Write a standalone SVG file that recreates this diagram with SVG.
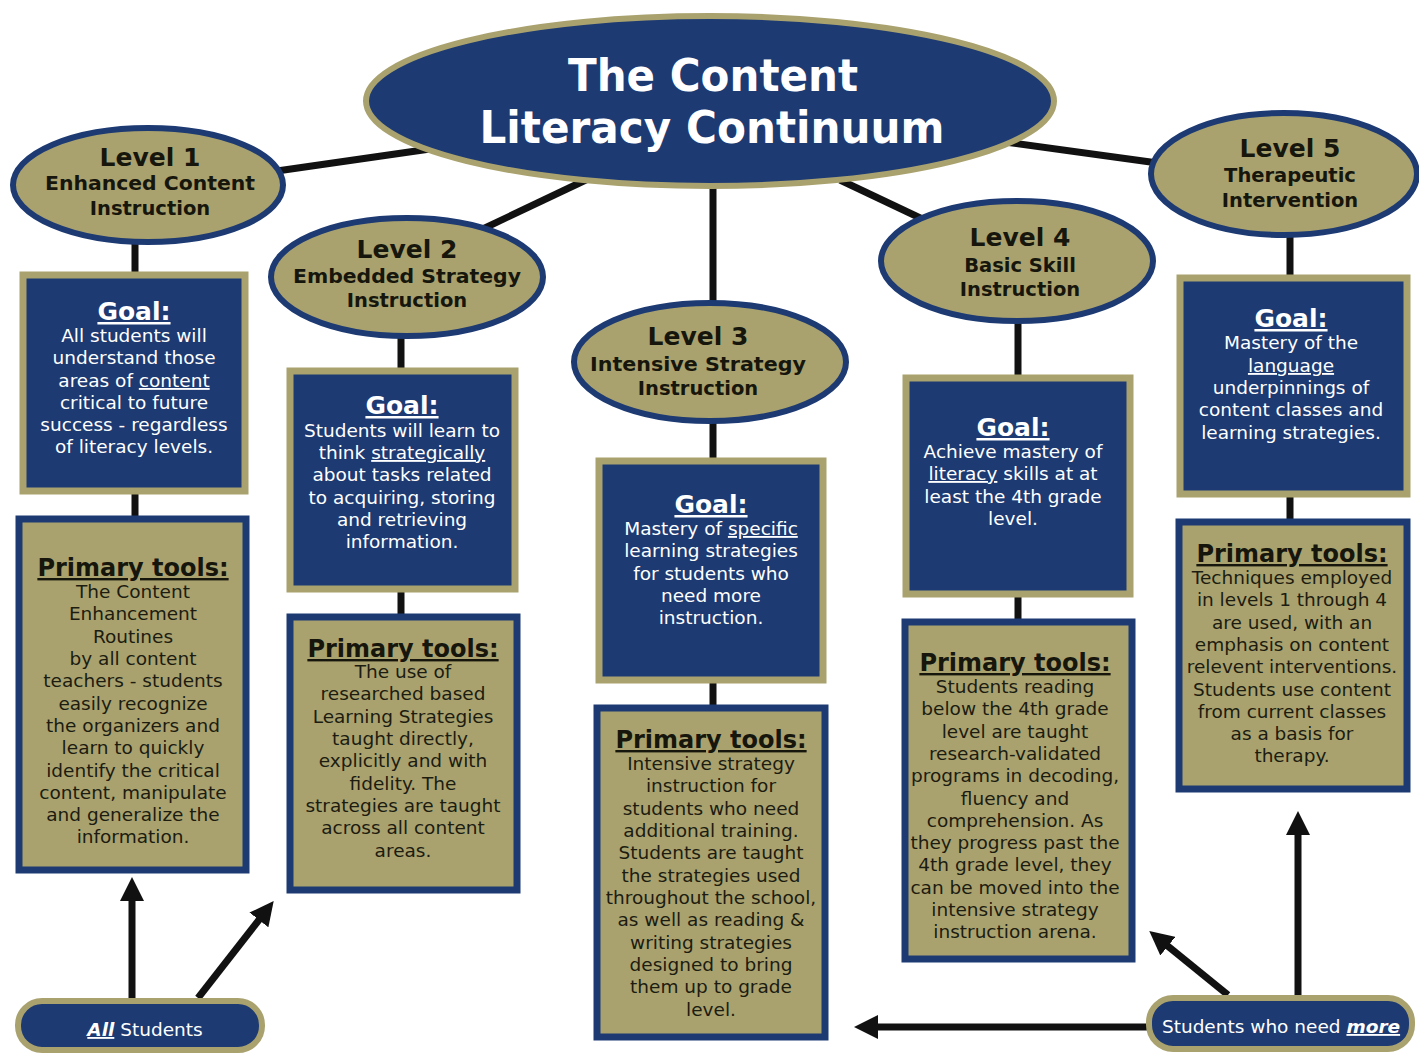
<svg xmlns="http://www.w3.org/2000/svg" width="1419" height="1055" viewBox="0 0 1419 1055">
<style>
.bg{fill:#ffffff}
.title-ell{fill:#1d3a72;stroke:#a9a26f;stroke-width:6}
.lvl{fill:#a9a26f;stroke:#1d3a72;stroke-width:6}
.goal{fill:#1d3a72;stroke:#a9a26f;stroke-width:7}
.tools{fill:#a9a26f;stroke:#1d3a72;stroke-width:7}
.pill{fill:#1d3a72;stroke:#a9a26f;stroke-width:6}
.line{stroke:#111111;stroke-width:7;fill:none}
.arrow{stroke:#111111;stroke-width:7;fill:none;marker-end:url(#ah)}
text{font-family:"DejaVu Sans","Liberation Sans",sans-serif;text-anchor:middle}
.ttl{font-size:44px;font-weight:bold;fill:#ffffff}
.lv{font-size:25px;font-weight:bold;fill:#16160c}
.ls{font-size:19.5px;font-weight:bold;fill:#16160c}
.gh{font-size:25px;font-weight:bold;fill:#ffffff;text-decoration:underline}
.gt{font-size:18.5px;fill:#ffffff}
.th{font-size:24px;font-weight:bold;fill:#16160c;text-decoration:underline}
.tt{font-size:18.5px;fill:#1c1c10}
.pt{font-size:18.5px;fill:#ffffff}
.u{text-decoration:underline}
.bi{font-weight:bold;font-style:italic;text-decoration:underline}
</style>
<defs>
<marker id="ah" markerUnits="userSpaceOnUse" markerWidth="24" markerHeight="24" viewBox="0 0 24 24" refX="5" refY="12" orient="auto">
<path d="M0,0 L24,12 L0,24 z" fill="#111111"/>
</marker>
</defs>
<rect class="bg" x="0" y="0" width="1419" height="1055"/>

<g id="connectors">
<line class="line" x1="270" y1="172" x2="430" y2="149"/>
<line class="line" x1="470" y1="235" x2="590" y2="178"/>
<line class="line" x1="713" y1="180" x2="713" y2="708"/>
<line class="line" x1="840" y1="180" x2="935" y2="225"/>
<line class="line" x1="1005" y1="142" x2="1165" y2="164"/>
<line class="line" x1="135" y1="238" x2="135" y2="520"/>
<line class="line" x1="401" y1="332" x2="401" y2="617"/>
<line class="line" x1="1018" y1="318" x2="1018" y2="622"/>
<line class="line" x1="1290" y1="232" x2="1290" y2="522"/>
<path class="arrow" d="M132,1000 L132,896"/>
<path class="arrow" d="M198,998 L262,916"/>
<path class="arrow" d="M1148,1027 L873,1027"/>
<path class="arrow" d="M1228,995 L1164,943"/>
<path class="arrow" d="M1298,997 L1298,830"/>
</g>

<g id="title">
<ellipse class="title-ell" cx="710" cy="101" rx="344" ry="85"/>
<text class="ttl" x="713" y="91" textLength="290" lengthAdjust="spacingAndGlyphs">The Content</text>
<text class="ttl" x="712" y="143" textLength="465" lengthAdjust="spacingAndGlyphs">Literacy Continuum</text>
</g>

<g id="level1">
<ellipse class="lvl" cx="148" cy="185" rx="135" ry="57"/>
<text class="lv" x="150" y="166">Level 1</text>
<text class="ls" x="150" y="190" textLength="210" lengthAdjust="spacingAndGlyphs">Enhanced Content</text>
<text class="ls" x="150" y="215">Instruction</text>
</g>
<g id="level2">
<ellipse class="lvl" cx="407" cy="277" rx="136" ry="59"/>
<text class="lv" x="407" y="258">Level 2</text>
<text class="ls" x="407" y="283" textLength="228" lengthAdjust="spacingAndGlyphs">Embedded Strategy</text>
<text class="ls" x="407" y="307">Instruction</text>
</g>
<g id="level3">
<ellipse class="lvl" cx="710" cy="362" rx="136" ry="59"/>
<text class="lv" x="698" y="345">Level 3</text>
<text class="ls" x="698" y="371" textLength="216" lengthAdjust="spacingAndGlyphs">Intensive Strategy</text>
<text class="ls" x="698" y="395">Instruction</text>
</g>
<g id="level4">
<ellipse class="lvl" cx="1017" cy="261" rx="136" ry="60"/>
<text class="lv" x="1020" y="246">Level 4</text>
<text class="ls" x="1020" y="272">Basic Skill</text>
<text class="ls" x="1020" y="296">Instruction</text>
</g>
<g id="level5">
<ellipse class="lvl" cx="1284" cy="174" rx="133" ry="61"/>
<text class="lv" x="1290" y="157">Level 5</text>
<text class="ls" x="1290" y="182">Therapeutic</text>
<text class="ls" x="1290" y="207">Intervention</text>
</g>

<g id="goal1">
<rect class="goal" x="23" y="275" width="222" height="216"/>
<text class="gh" x="134" y="320">Goal:</text>
<text class="gt" x="134" y="342">All students will</text>
<text class="gt" x="134" y="364">understand those</text>
<text class="gt" x="134" y="387">areas of <tspan class="u">content</tspan></text>
<text class="gt" x="134" y="409">critical to future</text>
<text class="gt" x="134" y="431">success - regardless</text>
<text class="gt" x="134" y="453">of literacy levels.</text>
</g>
<g id="tools1">
<rect class="tools" x="19" y="519" width="227" height="351"/>
<text class="th" x="133" y="576">Primary tools:</text>
<text class="tt" x="133" y="598">The Content</text>
<text class="tt" x="133" y="620">Enhancement</text>
<text class="tt" x="133" y="643">Routines</text>
<text class="tt" x="133" y="665">by all content</text>
<text class="tt" x="133" y="687">teachers - students</text>
<text class="tt" x="133" y="710">easily recognize</text>
<text class="tt" x="133" y="732">the organizers and</text>
<text class="tt" x="133" y="754">learn to quickly</text>
<text class="tt" x="133" y="777">identify the critical</text>
<text class="tt" x="133" y="799">content, manipulate</text>
<text class="tt" x="133" y="821">and generalize the</text>
<text class="tt" x="133" y="843">information.</text>
</g>

<g id="goal2">
<rect class="goal" x="290" y="371" width="225" height="218"/>
<text class="gh" x="402" y="414">Goal:</text>
<text class="gt" x="402" y="437">Students will learn to</text>
<text class="gt" x="402" y="459">think <tspan class="u">strategically</tspan></text>
<text class="gt" x="402" y="481">about tasks related</text>
<text class="gt" x="402" y="504">to acquiring, storing</text>
<text class="gt" x="402" y="526">and retrieving</text>
<text class="gt" x="402" y="548">information.</text>
</g>
<g id="tools2">
<rect class="tools" x="290" y="617" width="227" height="273"/>
<text class="th" x="403" y="657">Primary tools:</text>
<text class="tt" x="403" y="678">The use of</text>
<text class="tt" x="403" y="700">researched based</text>
<text class="tt" x="403" y="723">Learning Strategies</text>
<text class="tt" x="403" y="745">taught directly,</text>
<text class="tt" x="403" y="767">explicitly and with</text>
<text class="tt" x="403" y="790">fidelity. The</text>
<text class="tt" x="403" y="812">strategies are taught</text>
<text class="tt" x="403" y="834">across all content</text>
<text class="tt" x="403" y="857">areas.</text>
</g>

<g id="goal3">
<rect class="goal" x="599" y="461" width="224" height="219"/>
<text class="gh" x="711" y="513">Goal:</text>
<text class="gt" x="711" y="535">Mastery of <tspan class="u">specific</tspan></text>
<text class="gt" x="711" y="557">learning strategies</text>
<text class="gt" x="711" y="580">for students who</text>
<text class="gt" x="711" y="602">need more</text>
<text class="gt" x="711" y="624">instruction.</text>
</g>
<g id="tools3">
<rect class="tools" x="597" y="708" width="228" height="329"/>
<text class="th" x="711" y="748">Primary tools:</text>
<text class="tt" x="711" y="770">Intensive strategy</text>
<text class="tt" x="711" y="792">instruction for</text>
<text class="tt" x="711" y="815">students who need</text>
<text class="tt" x="711" y="837">additional training.</text>
<text class="tt" x="711" y="859">Students are taught</text>
<text class="tt" x="711" y="882">the strategies used</text>
<text class="tt" x="711" y="904">throughout the school,</text>
<text class="tt" x="711" y="926">as well as reading &amp;</text>
<text class="tt" x="711" y="949">writing strategies</text>
<text class="tt" x="711" y="971">designed to bring</text>
<text class="tt" x="711" y="993">them up to grade</text>
<text class="tt" x="711" y="1016">level.</text>
</g>

<g id="goal4">
<rect class="goal" x="906" y="378" width="224" height="216"/>
<text class="gh" x="1013" y="436">Goal:</text>
<text class="gt" x="1013" y="458">Achieve mastery of</text>
<text class="gt" x="1013" y="480"><tspan class="u">literacy</tspan> skills at at</text>
<text class="gt" x="1013" y="503">least the 4th grade</text>
<text class="gt" x="1013" y="525">level.</text>
</g>
<g id="tools4">
<rect class="tools" x="905" y="622" width="227" height="337"/>
<text class="th" x="1015" y="671">Primary tools:</text>
<text class="tt" x="1015" y="693">Students reading</text>
<text class="tt" x="1015" y="715">below the 4th grade</text>
<text class="tt" x="1015" y="738">level are taught</text>
<text class="tt" x="1015" y="760">research-validated</text>
<text class="tt" x="1015" y="782">programs in decoding,</text>
<text class="tt" x="1015" y="805">fluency and</text>
<text class="tt" x="1015" y="827">comprehension.  As</text>
<text class="tt" x="1015" y="849">they progress past the</text>
<text class="tt" x="1015" y="871">4th grade level, they</text>
<text class="tt" x="1015" y="894">can be moved into the</text>
<text class="tt" x="1015" y="916">intensive strategy</text>
<text class="tt" x="1015" y="938">instruction arena.</text>
</g>

<g id="goal5">
<rect class="goal" x="1180" y="278" width="227" height="216"/>
<text class="gh" x="1291" y="327">Goal:</text>
<text class="gt" x="1291" y="349">Mastery of the</text>
<text class="gt" x="1291" y="372"><tspan class="u">language</tspan></text>
<text class="gt" x="1291" y="394">underpinnings of</text>
<text class="gt" x="1291" y="416">content classes and</text>
<text class="gt" x="1291" y="439">learning strategies.</text>
</g>
<g id="tools5">
<rect class="tools" x="1179" y="522" width="228" height="267"/>
<text class="th" x="1292" y="562">Primary tools:</text>
<text class="tt" x="1292" y="584">Techniques employed</text>
<text class="tt" x="1292" y="606">in levels 1 through 4</text>
<text class="tt" x="1292" y="629">are used, with an</text>
<text class="tt" x="1292" y="651">emphasis on content</text>
<text class="tt" x="1292" y="673">relevent interventions.</text>
<text class="tt" x="1292" y="696">Students use content</text>
<text class="tt" x="1292" y="718">from current classes</text>
<text class="tt" x="1292" y="740">as a basis for</text>
<text class="tt" x="1292" y="762">therapy.</text>
</g>

<g id="all-students">
<rect class="pill" x="18" y="1001" width="244" height="49" rx="24"/>
<text class="pt" x="145" y="1036"><tspan class="bi">All</tspan> Students</text>
</g>
<g id="students-more">
<rect class="pill" x="1149" y="998" width="263" height="51" rx="24"/>
<text class="pt" x="1281" y="1033">Students who need <tspan class="bi">more</tspan></text>
</g>
</svg>
